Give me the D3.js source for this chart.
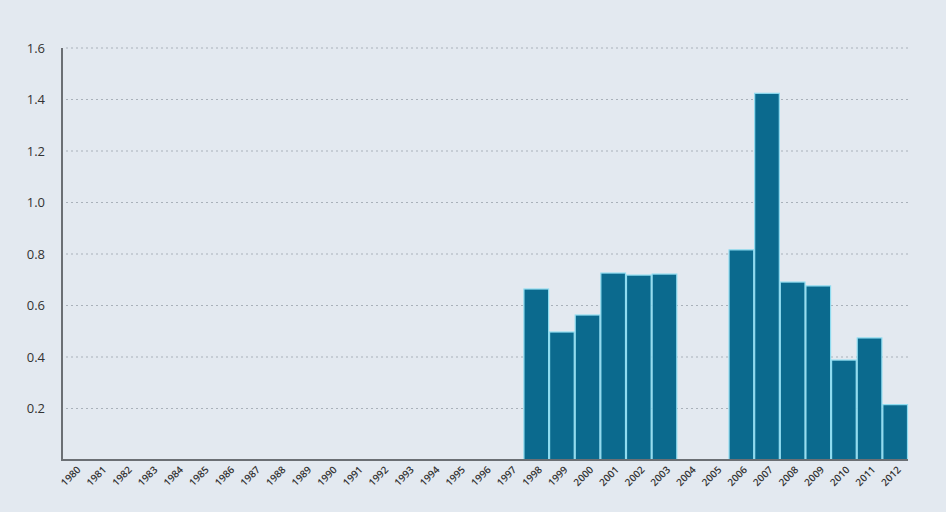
<!DOCTYPE html>
<html><head><meta charset="utf-8">
<script src="https://cdn.jsdelivr.net/npm/d3@7"></script>
<style>
html,body{margin:0;padding:0;background:#e3e9f0;}
svg{display:block;}
</style></head>
<body>
<svg id="c" width="946" height="512"></svg>
<script>
const years = d3.range(1980, 2013).map(String);
const values = [null,null,null,null,null,null,null,null,null,null,
  null,null,null,null,null,null,null,null,
  0.664,0.497,0.563,0.726,0.718,0.722,null,null,0.816,1.424,0.691,0.676,0.388,0.474,0.215];
const yTicks = [0.2,0.4,0.6,0.8,1.0,1.2,1.4,1.6];

const svg = d3.select("#c");
const m = {left:62, right:38, top:48, bottom:52};
const W = 946, H = 512;
const x = d3.scaleBand().domain(years).range([m.left, W - m.right]).padding(0);
const y = d3.scaleLinear().domain([0,1.6]).range([H - m.bottom, m.top]);

// gridlines
svg.append("g").selectAll("line").data(yTicks).join("line")
  .attr("x1", m.left+4).attr("x2", W - m.right)
  .attr("y1", d=>y(d)).attr("y2", d=>y(d))
  .attr("stroke","#a9b1ba").attr("stroke-width",1.2).attr("stroke-dasharray","2,3");

// bars
const data = years.map((yr,i)=>({yr, v: values[i]})).filter(d=>d.v!=null);
svg.append("g").selectAll("rect").data(data).join("rect")
  .attr("x", d=>x(d.yr)+0.5).attr("width", x.bandwidth()-1)
  .attr("y", d=>y(d.v)).attr("height", d=>y(0)-y(d.v))
  .attr("fill","#0b6a8e").attr("stroke","#8fdcf0").attr("stroke-width",1.2);

// y axis labels
svg.append("g").selectAll("text").data(yTicks).join("text")
  .attr("x", 45).attr("y", d=>y(d)).attr("dy","0.35em")
  .attr("text-anchor","end").attr("font-family","Open Sans, sans-serif")
  .attr("font-size",13).attr("fill","#333").text(d=>d.toFixed(1));

// axis lines
svg.append("line").attr("x1",m.left).attr("x2",m.left).attr("y1",m.top).attr("y2",y(0)+1)
  .attr("stroke","#6b6f74").attr("stroke-width",2);
svg.append("line").attr("x1",m.left).attr("x2",W-m.right).attr("y1",y(0)).attr("y2",y(0))
  .attr("stroke","#6b6f74").attr("stroke-width",2);

// x labels
svg.append("g").selectAll("text").data(years).join("text")
  .attr("transform", d=>`translate(${x(d)+x.bandwidth()/2+4},${y(0)+8}) rotate(-45)`)
  .attr("text-anchor","end").attr("dy","0.35em")
  .attr("font-family","Open Sans, sans-serif").attr("font-size",10).attr("font-weight",600)
  .attr("fill","#333").text(d=>d);
</script>
</body></html>
